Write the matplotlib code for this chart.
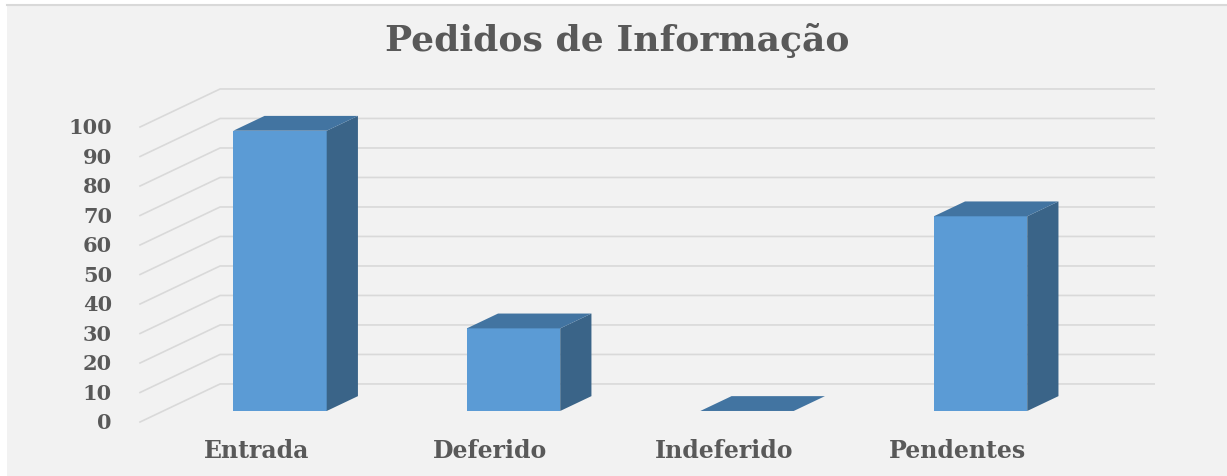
import numpy as np
import matplotlib
matplotlib.use('Agg')
import matplotlib.pyplot as plt
from matplotlib.patches import Polygon

categories = ['Entrada', 'Deferido', 'Indeferido', 'Pendentes']
values = [95, 28, 0, 66]
ticks = [0, 10, 20, 30, 40, 50, 60, 70, 80, 90, 100]

# colours / fake 3d geometry (Excel style oblique bars)
front_col = '#5b9bd5'
top_col = '#4274a1'
side_col = '#3a6488'
grid_col = '#d9d9d9'
text_col = '#595959'
depth_x, depth_y = 0.343, 12.9     # full floor depth in data units
bar_start, bar_depth = 0.29, 0.39  # bar position inside the depth
bar_w = 0.4

fig = plt.figure(figsize=(12.27, 4.77), dpi=100)
fig.patch.set_facecolor('white')
ax = fig.add_axes([0, 0, 1, 1])
ax.set_xlim(-1.0996, 4.155)
ax.set_ylim(-18.3, 143.4)
ax.axis('off')

# chart area background + top border
ax.add_patch(plt.Rectangle((0.0057, 0), 1, 0.988, transform=ax.transAxes,
                           facecolor='#f2f2f2', edgecolor='none', zorder=0))
ax.plot([0.0057, 1], [0.988, 0.988], transform=ax.transAxes, color='#d9d9d9', lw=1.5, zorder=1)

n = len(categories)
x_left, x_right = -0.5, n - 0.5

# gridlines: slanted part on the side wall then flat on back wall
for t in ticks:
    ax.plot([x_left, x_left + depth_x, x_right + depth_x], [t, t + depth_y, t + depth_y],
            color=grid_col, lw=1.2, zorder=2)
    ax.text(-0.62, t, str(t), ha='right', va='center', fontsize=15,
            fontweight='bold', family='DejaVu Serif', color=text_col)

# bars
ox, oy = bar_start * depth_x, bar_start * depth_y
bdx, bdy = bar_depth * depth_x, bar_depth * depth_y
for i, v in enumerate(values):
    x0 = i + ox - bar_w / 2
    x1 = x0 + bar_w
    ax.bar(i + ox, v, width=bar_w, bottom=oy, color=front_col, zorder=3)
    side = [(x1, oy), (x1 + bdx, oy + bdy), (x1 + bdx, oy + v + bdy), (x1, oy + v)]
    top = [(x0, oy + v), (x1, oy + v), (x1 + bdx, oy + v + bdy), (x0 + bdx, oy + v + bdy)]
    ax.add_patch(Polygon(side, closed=True, facecolor=side_col, edgecolor='none', zorder=3))
    ax.add_patch(Polygon(top, closed=True, facecolor=top_col, edgecolor='none', zorder=4))
    ax.text(i, -9.5, categories[i], ha='center', va='center', fontsize=17,
            fontweight='bold', family='DejaVu Serif', color=text_col)

ax.text(0.503, 0.915, 'Pedidos de Informação', transform=ax.transAxes, ha='center',
        va='center', fontsize=26, fontweight='bold', family='DejaVu Serif', color=text_col)

plt.savefig('out.png', dpi=100)
